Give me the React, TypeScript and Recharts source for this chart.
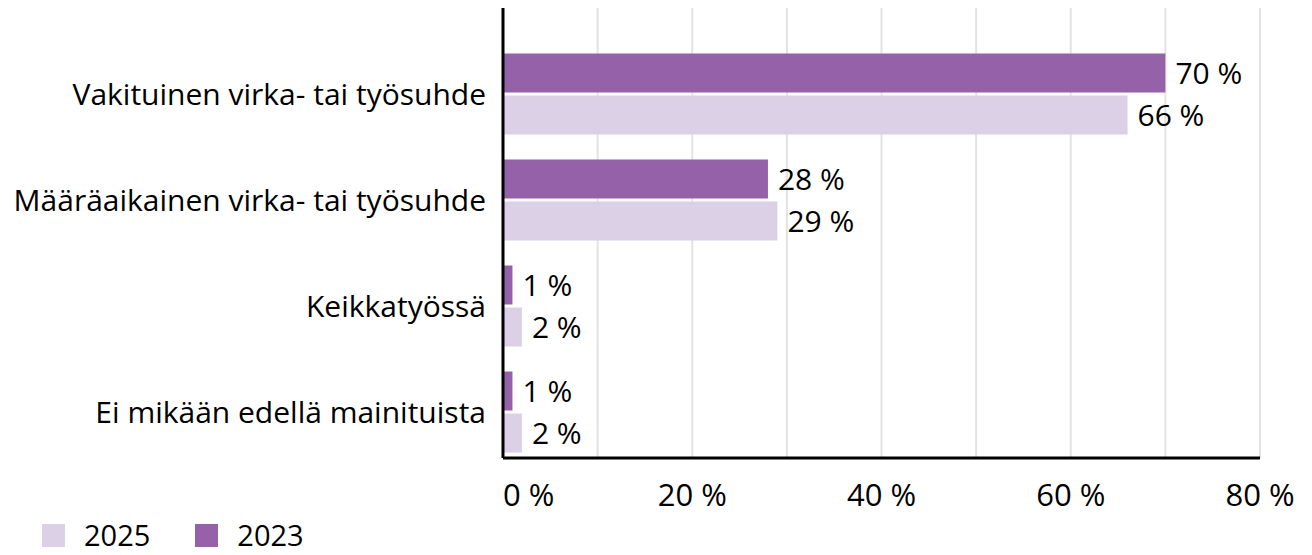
import React from 'react'
import { BarChart, Bar, XAxis, YAxis, CartesianGrid, Legend, LabelList } from 'recharts'

const categories = [
  'Vakituinen virka- tai työsuhde',
  'Määräaikainen virka- tai työsuhde',
  'Keikkatyössä',
  'Ei mikään edellä mainituista',
]
const values2023 = [70, 28, 1, 1]
const values2025 = [66, 29, 2, 2]
const xTicks = [0, 10, 20, 30, 40, 50, 60, 70, 80]

const DARK = '#9561a8'
const LIGHT = '#dcd0e6'
const FONT = '"Open Sans", Roboto, sans-serif'
const FS = 30
const FS_NUM = 31

const data = categories.map((name, i) => ({
  name,
  y2023: values2023[i],
  y2025: values2025[i],
}))

const YTick = ({ y, payload }: any) => (
  <text x={486} y={y} textAnchor="end" dominantBaseline="central" fontSize={FS} fill="#000" fontFamily={FONT}>
    {payload.value}
  </text>
)

const XTick = ({ x, y, payload }: any) => {
  if (payload.value % 20 !== 0) return null
  const anchor = payload.value === 0 ? 'start' : 'middle'
  return (
    <text x={x} y={y + 28} textAnchor={anchor} dominantBaseline="central" fontSize={FS_NUM} fill="#000" fontFamily={FONT}>
      {`${payload.value} %`}
    </text>
  )
}

const LegendContent = () => (
  <div style={{ display: 'flex', alignItems: 'center', fontFamily: FONT, fontSize: 29, lineHeight: '26px', color: '#000', paddingLeft: 42, paddingTop: 14 }}>
    <span style={{ width: 23, height: 23, background: LIGHT, display: 'inline-block', marginRight: 19 }} />
    <span style={{ marginRight: 45 }}>2025</span>
    <span style={{ width: 23, height: 23, background: DARK, display: 'inline-block', marginRight: 19 }} />
    <span>2023</span>
  </div>
)

export default function App() {
  return (
    <div style={{ position: 'absolute', left: 0, top: 0, background: '#fff' }}>
      <BarChart
        width={1312}
        height={555}
        data={data}
        layout="vertical"
        margin={{ top: 8, right: 52, left: 0, bottom: 0 }}
        barGap={3}
      >
        <CartesianGrid horizontal={false} stroke="#e3e3e3" strokeWidth={2} />
        <XAxis
          type="number"
          domain={[0, 80]}
          ticks={xTicks}
          interval={0}
          height={50}
          axisLine={{ stroke: '#000', strokeWidth: 3 }}
          tickLine={false}
          tick={<XTick />}
        />
        <YAxis
          type="category"
          dataKey="name"
          width={503}
          padding={{ top: 32.5, bottom: -6.5 }}
          axisLine={{ stroke: '#000', strokeWidth: 3 }}
          tickLine={false}
          tick={<YTick />}
        />
        <Legend verticalAlign="bottom" align="left" height={47} content={<LegendContent />} />
        <Bar dataKey="y2023" fill={DARK} barSize={39} isAnimationActive={false}>
          <LabelList dataKey="y2023" position="right" offset={10} formatter={(v: any) => `${v} %`} fill="#000" fontSize={FS} fontFamily={FONT} />
        </Bar>
        <Bar dataKey="y2025" fill={LIGHT} barSize={39} isAnimationActive={false}>
          <LabelList dataKey="y2025" position="right" offset={10} formatter={(v: any) => `${v} %`} fill="#000" fontSize={FS} fontFamily={FONT} />
        </Bar>
      </BarChart>
    </div>
  )
}
